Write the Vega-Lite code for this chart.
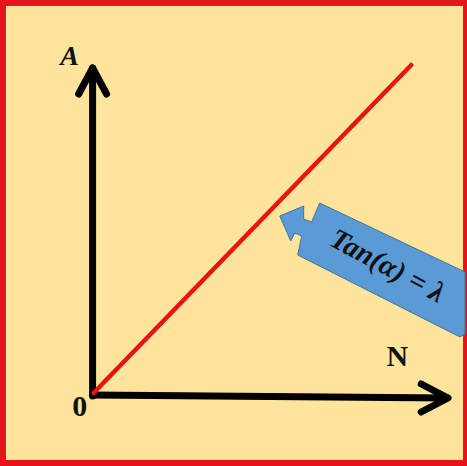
{
  "$schema": "https://vega.github.io/schema/vega-lite/v6.json",
  "autosize": {"type": "fit", "contains": "padding"},
  "width": 467,
  "height": 466,
  "padding": 0,
  "background": "#E8141C",
  "config": {"view": {"stroke": null}},
  "datasets": {
    "frame": [{"x": 6, "x2": 465, "y": 6, "y2": 460}],
    "axes": [
      {"id": "yaxis", "ord": 1, "x": 93, "y": 70},
      {"id": "yaxis", "ord": 2, "x": 93, "y": 398},
      {"id": "xaxis", "ord": 1, "x": 93, "y": 71},
      {"id": "xaxis", "ord": 2, "x": 449, "y": 68},
      {"id": "yhead", "ord": 1, "x": 79, "y": 372},
      {"id": "yhead", "ord": 2, "x": 93, "y": 398},
      {"id": "yhead", "ord": 3, "x": 107, "y": 372},
      {"id": "xhead", "ord": 1, "x": 423, "y": 82},
      {"id": "xhead", "ord": 2, "x": 450, "y": 68},
      {"id": "xhead", "ord": 3, "x": 423, "y": 54}
    ],
    "slope": [
      {"ord": 1, "x": 94, "y": 73},
      {"ord": 2, "x": 413, "y": 401}
    ],
    "callout": [
      {"ord": 1, "x": 281, "y": 250},
      {"ord": 2, "x": 305, "y": 260},
      {"ord": 3, "x": 305, "y": 247},
      {"ord": 4, "x": 313, "y": 244},
      {"ord": 5, "x": 321, "y": 263},
      {"ord": 6, "x": 467, "y": 194},
      {"ord": 7, "x": 467, "y": 132},
      {"ord": 8, "x": 462, "y": 129},
      {"ord": 9, "x": 299, "y": 211},
      {"ord": 10, "x": 303, "y": 230},
      {"ord": 11, "x": 296, "y": 233},
      {"ord": 12, "x": 292, "y": 225}
    ],
    "italicLabels": [
      {"label": "A", "x": 70, "y": 409}
    ],
    "labels": [
      {"label": "N", "x": 399, "y": 109},
      {"label": "0", "x": 80, "y": 59}
    ],
    "note": [{"label": "Tan(α) = λ", "x": 389, "y": 200}]
  },
  "encoding": {
    "x": {"field": "x", "type": "quantitative", "scale": {"domain": [0, 467], "nice": false, "zero": false}, "axis": null},
    "y": {"field": "y", "type": "quantitative", "scale": {"domain": [0, 466], "nice": false, "zero": false}, "axis": null}
  },
  "layer": [
    {
      "data": {"name": "frame"},
      "mark": {"type": "rect", "fill": "#FFE59B", "stroke": null},
      "encoding": {"x2": {"field": "x2"}, "y2": {"field": "y2"}}
    },
    {
      "data": {"name": "axes"},
      "mark": {"type": "line", "color": "#000000", "strokeWidth": 7, "strokeCap": "round", "strokeJoin": "round"},
      "encoding": {"detail": {"field": "id"}, "order": {"field": "ord"}}
    },
    {
      "data": {"name": "slope"},
      "mark": {"type": "line", "color": "#EE1111", "strokeWidth": 4.5, "strokeCap": "round"},
      "encoding": {"order": {"field": "ord"}}
    },
    {
      "data": {"name": "callout"},
      "mark": {"type": "line", "interpolate": "linear-closed", "fill": "#5B9BD5", "stroke": "#41719C", "strokeWidth": 1},
      "encoding": {"order": {"field": "ord"}}
    },
    {
      "data": {"name": "note"},
      "mark": {"type": "text", "font": "Liberation Serif", "fontStyle": "italic", "fontWeight": "bold", "fontSize": 29, "angle": 28, "align": "center", "baseline": "middle", "color": "#111111"},
      "encoding": {"text": {"field": "label"}}
    },
    {
      "data": {"name": "labels"},
      "mark": {"type": "text", "font": "Liberation Serif", "fontWeight": "bold", "fontSize": 30, "align": "center", "baseline": "middle", "color": "#111111"},
      "encoding": {"text": {"field": "label"}}
    },
    {
      "data": {"name": "italicLabels"},
      "mark": {"type": "text", "font": "Liberation Serif", "fontStyle": "italic", "fontWeight": "bold", "fontSize": 28, "align": "center", "baseline": "middle", "color": "#111111"},
      "encoding": {"text": {"field": "label"}}
    }
  ]
}
